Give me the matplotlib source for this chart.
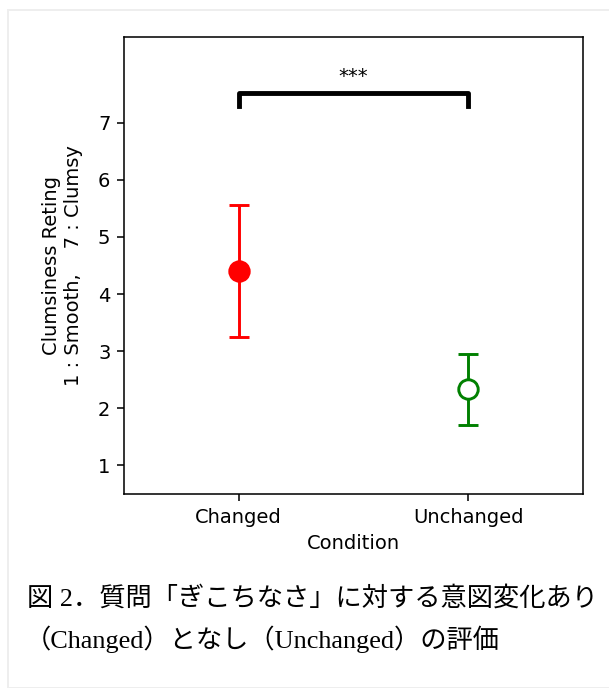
import matplotlib
matplotlib.use('Agg')
import matplotlib.pyplot as plt
from matplotlib.patches import Rectangle
import numpy as np

# values
conditions = ['Changed', 'Unchanged']
means = [4.41, 2.33]
errors = [1.155, 0.62]
colors = ['red', 'green']
filled = [True, False]
sig_label = '***'
bracket_y = 7.52
bracket_drop = 0.22
caption1 = '図 2．質問「ぎこちなさ」に対する意図変化あり'
caption2 = '（Changed）となし（Unchanged）の評価'

fig = plt.figure(figsize=(609 / 140, 688 / 140), dpi=140)
ax = fig.add_axes([124 / 609, 1 - 494 / 688, (583 - 124) / 609, (494 - 37) / 688])

x = np.arange(len(conditions))
for i in range(len(conditions)):
    face = colors[i] if filled[i] else 'white'
    ax.errorbar(x[i], means[i], yerr=errors[i], fmt='o', color=colors[i],
                markerfacecolor=face, markeredgecolor=colors[i],
                markersize=10, capsize=5, elinewidth=1.5, markeredgewidth=1.5)

# significance bracket
ax.plot([x[0], x[0], x[1], x[1]],
        [bracket_y - bracket_drop, bracket_y, bracket_y, bracket_y - bracket_drop],
        color='black', lw=2.5)
ax.text((x[0] + x[1]) / 2, bracket_y + 0.12, sig_label, ha='center', va='bottom', fontsize=10)

ax.set_xlim(-0.5, 1.5)
ax.set_ylim(0.5, 8.5)
ax.set_yticks([1, 2, 3, 4, 5, 6, 7])
ax.set_xticks(x)
ax.set_xticklabels(conditions)
ax.set_xlabel('Condition')
ax.set_ylabel('Clumsiness Reting\n1 : Smooth,    7 : Clumsy', labelpad=7.5)

# light frame of the screenshot
fig.patches.append(Rectangle((8 / 609, 0), 1, 1 - 10 / 688, transform=fig.transFigure,
                             fill=False, edgecolor='#eeeeee', lw=1))

cap_font = ['Liberation Serif', 'Noto Sans CJK JP']
fig.text(27 / 609, 1 - 598 / 688, caption1, family=cap_font, fontsize=13.5, va='center')
fig.text(25 / 609, 1 - 639 / 688, caption2, family=cap_font, fontsize=13.5, va='center')

fig.savefig('out.png', dpi=140)
